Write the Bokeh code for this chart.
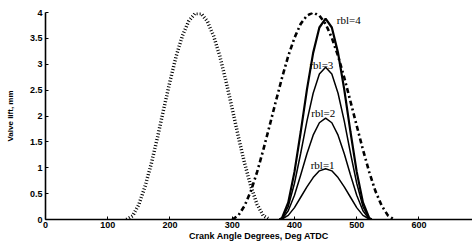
from bokeh.plotting import figure
from bokeh.models import Range1d, FixedTicker
from bokeh.core.properties import value
from bokeh.embed import file_html
from bokeh.resources import INLINE

# ---- data ----
x_ticks = [0, 100, 200, 300, 400, 500, 600, 700]
x_tick_labels = ["0", "100", "200", "300", "400", "500", "600", "700"]
y_ticks = [0, 0.5, 1, 1.5, 2, 2.5, 3, 3.5, 4]
y_tick_labels = ["0", "0.5", "1", "1.5", "2", "2.5", "3", "3.5", "4"]

# exhaust valve (dotted)
exh_deg = [130, 140, 150, 160, 170, 180, 190, 200, 210, 220, 230, 240,
           250, 260, 270, 280, 290, 300, 310, 320, 330, 340, 350, 360]
exh_lift = [0.00, 0.07, 0.29, 0.64, 1.08, 1.59, 2.14, 2.67, 3.16, 3.55, 3.83, 3.98,
            3.98, 3.83, 3.55, 3.16, 2.67, 2.14, 1.59, 1.08, 0.64, 0.29, 0.07, 0.00]

# intake valve, base profile (dash-dot)
int_deg = [300, 310, 320, 330, 340, 350, 360, 370, 380, 390, 400, 410, 420, 430,
           440, 450, 460, 470, 480, 490, 500, 510, 520, 530, 540, 550, 560]
int_lift = [0.00, 0.08, 0.27, 0.55, 0.92, 1.35, 1.81, 2.28, 2.74, 3.16, 3.51, 3.78, 3.94, 4.00,
            3.94, 3.78, 3.51, 3.16, 2.74, 2.28, 1.81, 1.35, 0.92, 0.55, 0.27, 0.08, 0.00]

# rebreathing lift curves (solid)
rbl_deg = [376, 380, 390, 400, 410, 420, 430, 440, 450, 460, 470, 480, 490, 500, 510, 520, 524]
rbl4 = [0.00, 0.03, 0.33, 0.92, 1.69, 2.51, 3.22, 3.71, 3.88, 3.71, 3.22, 2.51, 1.69, 0.92, 0.33, 0.03, 0.00]
rbl3 = [0.00, 0.02, 0.25, 0.70, 1.28, 1.90, 2.44, 2.81, 2.94, 2.81, 2.44, 1.90, 1.28, 0.70, 0.25, 0.02, 0.00]
rbl2 = [0.00, 0.01, 0.17, 0.47, 0.86, 1.27, 1.63, 1.87, 1.96, 1.87, 1.63, 1.27, 0.86, 0.47, 0.17, 0.01, 0.00]
rbl1 = [0.00, 0.01, 0.08, 0.23, 0.43, 0.63, 0.81, 0.94, 0.98, 0.94, 0.81, 0.63, 0.43, 0.23, 0.08, 0.01, 0.00]

label_text = ["rbl=4", "rbl=3", "rbl=2", "rbl=1"]
label_x = [468, 424, 427, 426]
label_y = [3.85, 2.98, 2.06, 1.06]

FONT = "Liberation Sans"

p = figure(width=472, height=243, output_backend="svg", toolbar_location=None,
           x_range=Range1d(0, 686), y_range=Range1d(0, 4),
           min_border_left=45, min_border_right=0, min_border_top=12, min_border_bottom=0)
p.background_fill_color = "white"
p.border_fill_color = "white"
p.outline_line_color = None
p.xgrid.grid_line_color = None
p.ygrid.grid_line_color = None

p.line(exh_deg, exh_lift, line_color="black", line_width=3.5, line_dash="1 2")
p.line(int_deg, int_lift, line_color="black", line_width=2.6, line_dash="5 3 2 3")
p.line(rbl_deg, rbl1, line_color="black", line_width=1.5)
p.line(rbl_deg, rbl2, line_color="black", line_width=1.5)
p.line(rbl_deg, rbl3, line_color="black", line_width=1.5)
p.line(rbl_deg, rbl4, line_color="black", line_width=2.2)

p.text(x=label_x, y=label_y, text=label_text, text_font=value("Liberation Serif"),
       text_font_size="11px", text_baseline="middle", text_align="left", text_color="black")

for ax in (p.xaxis[0], p.yaxis[0]):
    ax.axis_line_color = "black"
    ax.axis_line_width = 1.6
    ax.major_tick_in = 3
    ax.major_tick_out = 0
    ax.minor_tick_in = 0
    ax.minor_tick_out = 0
    ax.major_tick_line_color = "black"
    ax.major_label_text_font = FONT
    ax.major_label_text_font_style = "bold"
    ax.major_label_text_color = "black"
    ax.axis_label_text_font = FONT
    ax.axis_label_text_font_style = "bold"
    ax.axis_label_text_color = "black"

p.xaxis.ticker = FixedTicker(ticks=x_ticks)
p.xaxis.major_label_overrides = dict(zip(x_ticks, x_tick_labels))
p.xaxis.major_label_text_font_size = "9px"
p.xaxis.major_label_standoff = 2
p.xaxis.axis_label = "Crank Angle Degrees, Deg ATDC"
p.xaxis.axis_label_text_font_size = "9px"
p.xaxis.axis_label_standoff = 0

p.yaxis.ticker = FixedTicker(ticks=y_ticks)
p.yaxis.major_label_overrides = dict(zip(y_ticks, y_tick_labels))
p.yaxis.major_label_text_font_size = "9px"
p.yaxis.major_label_standoff = 3
p.yaxis.axis_label = "Valve lift, mm"
p.yaxis.axis_label_text_font_size = "8px"
p.yaxis.axis_label_standoff = 12

open("out.html", "w").write(file_html(p, INLINE))
